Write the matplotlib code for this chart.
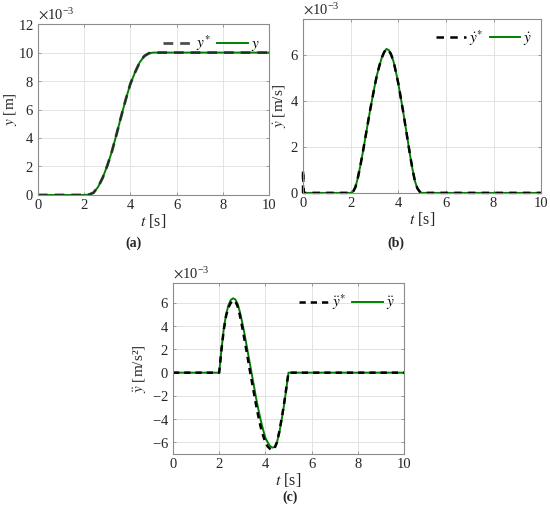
import numpy as np
import matplotlib
matplotlib.use("Agg")
import matplotlib.pyplot as plt
from matplotlib.ticker import ScalarFormatter

plt.rcParams['font.family'] = ['Liberation Serif', 'DejaVu Serif']
plt.rcParams['mathtext.fontset'] = 'stix'
plt.rcParams['axes.unicode_minus'] = False

# ---- data (values in units of 1e-3) ----
t_pos = [0, 2.0, 2.2, 2.4, 2.6, 2.8, 3.0, 3.2, 3.4, 3.6, 3.8, 4.0, 4.2, 4.4, 4.6, 4.8, 5.0, 10]
y_ref = [0, 0, 0.02, 0.15, 0.55, 1.2, 2.05, 3.05, 4.25, 5.5, 6.7, 7.8, 8.6, 9.3, 9.75, 9.95, 10, 10]
y_act = [0, 0, 0.02, 0.15, 0.55, 1.2, 2.05, 3.05, 4.25, 5.5, 6.7, 7.8, 8.6, 9.3, 9.75, 9.95, 10, 10]

t_vel = [0, 2.0, 2.1, 2.2, 2.3, 2.4, 2.5, 2.6, 2.7, 2.8, 2.9, 3.0, 3.1, 3.2, 3.3, 3.4, 3.5,
         3.6, 3.7, 3.8, 3.9, 4.0, 4.1, 4.2, 4.3, 4.4, 4.5, 4.6, 4.7, 4.8, 4.9, 5.0, 10]
v_act = [0, 0, 0.05, 0.25, 0.65, 1.15, 1.7, 2.3, 2.9, 3.5, 4.05, 4.6, 5.1, 5.5, 5.85, 6.1, 6.25,
         6.2, 6.0, 5.7, 5.25, 4.75, 4.15, 3.55, 2.9, 2.25, 1.6, 1.0, 0.5, 0.2, 0.05, 0, 0]
t_vel_ref = [0, 0, 0.02] + t_vel[1:]
v_ref = [0, 1.0, 0] + v_act[1:]

t_acc = [0, 2.0, 2.1, 2.2, 2.3, 2.4, 2.5, 2.6, 2.7, 2.8, 2.9, 3.0, 3.1, 3.2, 3.3, 3.4, 3.5,
         3.6, 3.7, 3.8, 3.9, 4.0, 4.1, 4.2, 4.3, 4.4, 4.5, 4.6, 4.7, 4.8, 4.9, 5.0, 10]
a_act = [0, 0, 2.0, 3.8, 5.0, 5.8, 6.25, 6.4, 6.3, 5.9, 5.2, 4.3, 3.3, 2.2, 1.1, 0.0, -1.1,
         -2.2, -3.2, -4.1, -4.9, -5.6, -6.0, -6.3, -6.45, -6.4, -6.0, -5.2, -4.1, -2.9, -1.5, 0, 0]
a_ref = [0, 0, 2.0, 3.7, 4.9, 5.6, 6.0, 6.2, 6.15, 5.7, 4.9, 3.9, 2.8, 1.7, 0.5, -0.6, -1.7,
         -2.8, -3.8, -4.7, -5.4, -6.0, -6.35, -6.55, -6.65, -6.5, -6.0, -5.1, -4.0, -2.8, -1.4, 0, 0]

SCALE = 1e-3
GREEN = '#008000'
FRAME = '#8c8c8c'
TXT = '#262626'

fig = plt.figure(figsize=(5.5, 5.13), dpi=100)

def style(ax, ylim, yticks, ylabel, leg_ref, leg_act, ylab_x):
    ax.set_xlim(0, 10)
    ax.set_ylim(ylim[0] * SCALE, ylim[1] * SCALE)
    ax.set_xticks(np.arange(0, 11, 2))
    ax.set_yticks(np.array(yticks) * SCALE)
    fmt = ScalarFormatter(useMathText=True)
    fmt.set_powerlimits((-3, -3))
    ax.yaxis.set_major_formatter(fmt)
    ax.yaxis.get_offset_text().set_fontsize(10.5)
    ax.yaxis.get_offset_text().set_color(TXT)
    ax.grid(True, color='#e3e3e3', linewidth=0.7)
    ax.set_axisbelow(True)
    for s in ax.spines.values():
        s.set_color(FRAME)
        s.set_linewidth(0.8)
    ax.tick_params(direction='in', length=2.5, width=0.6, color=FRAME,
                   labelsize=10.5, labelcolor=TXT, top=True, right=True, pad=3)
    ax.set_xlabel(r'$t$ [s]', fontsize=11.5, color=TXT, labelpad=0)
    ax.set_ylabel(ylabel, fontsize=11, color=TXT)
    ax.yaxis.set_label_coords(ylab_x, 0.5)
    h_act = ax.lines[0]
    h_ref = ax.lines[1]
    ax.legend([h_ref, h_act], [leg_ref, leg_act], loc='upper right', ncol=2,
              frameon=False, fontsize=11, handlelength=2.0, columnspacing=0.4,
              handletextpad=0.2, borderaxespad=0.2)

# (a)
ax1 = fig.add_axes([0.069, 0.620, 0.420, 0.333])
ax1.plot(t_pos, np.array(y_act) * SCALE, color=GREEN, lw=1.4)
ax1.plot(t_pos, np.array(y_ref) * SCALE, color='#222222', lw=2.0, ls=(0, (3.5, 2.5)), alpha=0.8)
style(ax1, (0, 12), [0, 2, 4, 6, 8, 10, 12], r'$y$ [m]', r'$y^{*}$', r'$y$', -0.08)

# (b)
ax2 = fig.add_axes([0.551, 0.624, 0.433, 0.339])
ax2.plot(t_vel, np.array(v_act) * SCALE, color=GREEN, lw=1.4)
ax2.plot(t_vel_ref, np.array(v_ref) * SCALE, color='black', lw=1.8, ls=(0, (3, 2.5)), clip_on=False)
style(ax2, (0, 7.55), [0, 2, 4, 6], r'$\dot{y}$ [m/s]', r'$\dot{y}^{*}$', r'$\dot{y}$', -0.06)

# (c)
ax3 = fig.add_axes([0.3145, 0.115, 0.420, 0.333])
ax3.plot(t_acc, np.array(a_act) * SCALE, color=GREEN, lw=1.4)
ax3.plot(t_acc, np.array(a_ref) * SCALE, color='black', lw=1.8, ls=(0, (2.5, 2)))
style(ax3, (-7, 7.7), [-6, -4, -2, 0, 2, 4, 6], r'$\ddot{y}$ [m/s²]', r'$\ddot{y}^{*}$', r'$\ddot{y}$', -0.105)

fig.text(133 / 550, 1 - 243 / 513, '(a)', ha='center', va='center', fontsize=10, fontweight='bold', color=TXT)
fig.text(396 / 550, 1 - 243 / 513, '(b)', ha='center', va='center', fontsize=10, fontweight='bold', color=TXT)
fig.text(290 / 550, 1 - 497 / 513, '(c)', ha='center', va='center', fontsize=10, fontweight='bold', color=TXT)

fig.savefig('out.png', dpi=100)
